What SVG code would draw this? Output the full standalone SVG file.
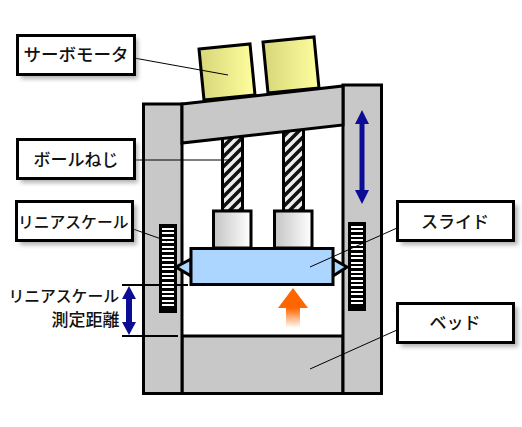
<svg xmlns="http://www.w3.org/2000/svg" width="522" height="427" viewBox="0 0 522 427">
<style>
.s{stroke:#000;stroke-width:3;stroke-linejoin:miter}
.g{fill:#c8c8c8}
.l{stroke:#000;stroke-width:1;fill:none}
.d{stroke:#000;stroke-width:2;fill:none}
.b{fill:#fff;stroke:#000;stroke-width:3}
.sh{fill:#777;opacity:.55;filter:url(#blur)}
.w{stroke:#fff;stroke-width:2;fill:none;shape-rendering:crispEdges}
text{font-family:"Noto Sans CJK JP","Noto Sans",sans-serif;fill:#111;font-weight:500}
.t{font-size:17px;text-anchor:middle}
.m{font-size:15.800px;text-anchor:end}
.ar{fill:#0c0c96}
</style>
<defs>
<filter id="blur" x="-20%" y="-30%" width="140%" height="160%"><feGaussianBlur stdDeviation="2"/></filter>
<linearGradient id="mot"><stop offset="0" stop-color="#d6d678"/><stop offset="1" stop-color="#ffffa0"/></linearGradient>
<linearGradient id="cyl"><stop offset="0" stop-color="#c4c4c4"/><stop offset="1" stop-color="#fff"/></linearGradient>
<linearGradient id="up" x1="0" y1="0" x2="0" y2="1"><stop offset="0" stop-color="#ff6600"/><stop offset=".5" stop-color="#ff6600"/><stop offset="1" stop-color="#ff6600" stop-opacity="0"/></linearGradient>
<pattern id="hatch" width="10" height="10" patternUnits="userSpaceOnUse"><rect width="10" height="10" fill="#eee"/><path d="M-5,5L5,-5M0,10L10,0M5,15L15,5" stroke="#111" stroke-width="3.600"/></pattern>
<path id="rungs" d="M0,2.500H12M0,7H12M0,11.500H12M0,16H12M0,20.500H12M0,25H12M0,29.500H12M0,34H12M0,38.500H12M0,43H12M0,47.500H12M0,52H12M0,56.500H12M0,61H12M0,65.500H12M0,70H12M0,74.500H12M0,79H12"/>
</defs>
<g id="motor-1"><polygon class="s" points="199,49 250,44 255,95 204,100" fill="url(#mot)"/></g>
<g id="motor-2"><polygon class="s" points="263,42 314,37 319,88 268,93" fill="url(#mot)"/></g>
<g id="screw-1"><rect class="s" x="222.500" y="135" width="20" height="76" fill="url(#hatch)"/></g>
<g id="screw-2"><rect class="s" x="283.500" y="128" width="20" height="83" fill="url(#hatch)"/></g>
<g id="bed"><rect class="s g" x="182" y="336" width="161" height="57.500"/></g>
<g id="column-left"><rect class="s g" x="143.500" y="104" width="38.500" height="289.500"/></g>
<g id="column-right"><rect class="s g" x="343" y="85" width="38.500" height="308.500"/></g>
<g id="beam"><polygon class="s g" points="182,104 343,86 343,125 182,143"/></g>
<g id="block-1"><rect class="s" x="213.500" y="211" width="37.500" height="37" fill="url(#cyl)"/></g>
<g id="block-2"><rect class="s" x="274.500" y="211" width="37.500" height="37" fill="url(#cyl)"/></g>
<g id="scale-left"><rect x="159" y="224" width="18" height="89" fill="#000"/><use href="#rungs" class="w" x="162" y="226"/></g>
<g id="scale-right"><rect x="348" y="222" width="18" height="89" fill="#000"/><use href="#rungs" class="w" x="351" y="224"/></g>
<g id="slide">
<polygon class="s" points="191,259 176,267 191,276" fill="#acd6ff"/>
<polygon class="s" points="333,259 347,267 333,276" fill="#acd6ff"/>
<rect class="s" x="191" y="248.500" width="142" height="36" fill="#acd6ff"/>
</g>
<g id="lift-arrow"><polygon points="293,288 308,308 300,308 300,328 286,328 286,308 278,308" fill="url(#up)"/></g>
<g id="travel-arrow"><path class="ar" d="M362,110L369,124H364.500V190H369L362,204L355,190H359.500V124H355Z"/></g>
<g id="connectors">
<path class="l" d="M134,58L228,75M134,160H232M133,229L167,241M397,228L310,267M397,330L310,369"/>
<path class="d" d="M122,285H188M122,336H178"/>
<path class="ar" d="M129,286L136,299H132V322H136L129,335L122,322H126V299H122Z"/>
</g>
<g id="label-servo"><rect class="sh" x="21" y="39" width="117" height="40"/><rect class="b" x="17.500" y="35.500" width="117" height="39"/><text class="t" x="76" y="61" style="font-size:17.500px">サーボモータ</text></g>
<g id="label-screw"><rect class="sh" x="21" y="143" width="117" height="40"/><rect class="b" x="17.500" y="139.500" width="117" height="39"/><text class="t" x="76" y="166">ボールねじ</text></g>
<g id="label-scale"><rect class="sh" x="20" y="205" width="117" height="40"/><rect class="b" x="16.500" y="201.500" width="116" height="39"/><text class="m" x="128.500" y="228">リニアスケール</text></g>
<g id="label-slide"><rect class="sh" x="401" y="205" width="117" height="40"/><rect class="b" x="397.500" y="201.500" width="116" height="39"/><text class="t" x="455" y="228">スライド</text></g>
<g id="label-bed"><rect class="sh" x="401" y="307" width="117" height="40"/><rect class="b" x="397.500" y="303.500" width="116" height="39"/><text class="t" x="455" y="329">ベッド</text></g>
<g id="label-range"><text class="m" x="119" y="302">リニアスケール</text><text class="m" x="119.500" y="325.500" style="font-size:17px">測定距離</text></g>
</svg>
